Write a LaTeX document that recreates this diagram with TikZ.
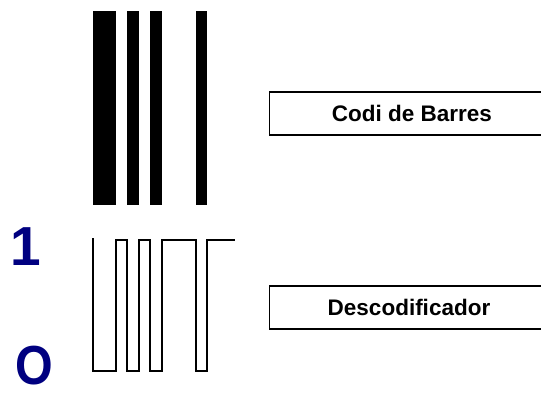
\documentclass[tikz,border=0pt]{standalone}
\usepackage{fontspec}
\setmainfont{Liberation Sans}
\usepackage{tikz}
\usetikzlibrary{positioning}
\definecolor{navy}{RGB}{0,0,128}

\begin{document}
\begin{tikzpicture}[
  x=1pt,y=-1pt,
  frame/.style={draw,line width=1.4pt,minimum width=290pt,minimum height=43pt,inner sep=0pt,anchor=west},
  lbl/.style={font=\fontsize{22.5}{24}\selectfont\bfseries},
  level/.style={font=\fontsize{55}{60}\selectfont\bfseries,text=navy,inner sep=0pt},
  wave/.style={line width=2pt,line join=miter}]
\clip (0,0) rectangle (541,394);
% bar code
\foreach \a/\b in {93/116,127/139,150/162,196/207}
  \fill (\a,11) rectangle (\b,205);
% signal
\coordinate (w0) at (93,238);
\coordinate (w1) at (235,240);
\draw[wave] (w0) |- (116,371) |- (127,240) |- (139,371) |- (150,240)
  |- (162,371) |- (196,240) |- (207,371) |- (w1);
% logic levels
\node[level] (hi) at (25.5,247) {1};
\node[level,xscale=0.88] (lo) at (34.5,366) {O};
% labels
\node[frame] (codi) at (269,113.5) {};
\node[lbl] (codit) at ([xshift=143pt]codi.west) {Codi de Barres};
\node[frame] (desc) at (269,307.5) {};
\node[lbl] (desct) at ([xshift=140pt]desc.west) {Descodificador};
\end{tikzpicture}
\end{document}
